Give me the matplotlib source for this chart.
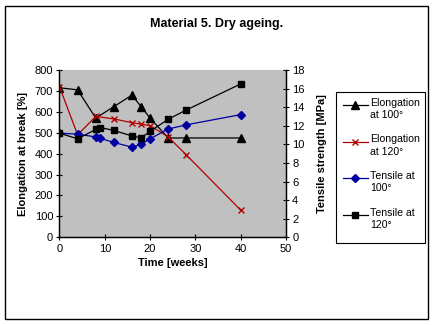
import matplotlib
matplotlib.use('Agg')
import matplotlib.pyplot as plt
from matplotlib.patches import Rectangle
from matplotlib.lines import Line2D

plt.rcParams['font.family'] = ['Liberation Sans', 'DejaVu Sans']

# ageing time in weeks
weeks_el = [0, 4, 8, 12, 16, 18, 20, 24, 28, 40]
weeks_ts = [0, 4, 8, 9, 12, 16, 18, 20, 24, 28, 40]

# elongation at break [%]
elong_100 = [715, 705, 570, 625, 680, 625, 570, 475, 475, 475]
elong_120 = [720, 490, 578, 566, 548, 541, 534, 480, 394, 130]

# tensile strength [MPa]
tens_100 = [11.2, 11.1, 10.8, 10.65, 10.2, 9.7, 10.0, 10.6, 11.65, 12.1, 13.2]
tens_120 = [11.2, 10.6, 11.6, 11.8, 11.5, 10.9, 10.7, 11.4, 12.7, 13.7, 16.5]

labels = ['Elongation\nat 100°', 'Elongation\nat 120°', 'Tensile at\n100°', 'Tensile at\n120°']

W, H = 435, 325
fig = plt.figure(figsize=(W / 100, H / 100), dpi=100)


def px(x, y):
    # pixel position (from top-left) -> figure fraction
    return x / W, 1 - y / H


fig.patches.append(Rectangle(px(5, 319), 423 / W, 313 / H, transform=fig.transFigure,
                             fill=False, edgecolor='black', linewidth=1))

ax = fig.add_axes([59.5 / W, (H - 237.3) / H, 226.5 / W, 167.3 / H])
ax.set_facecolor('#c0c0c0')
ax2 = ax.twinx()

styles = [
    dict(color='black', marker='^', markersize=5.5),
    dict(color='#b00000', marker='x', markersize=4.5, markeredgewidth=1),
    dict(color='#0000a0', marker='D', markersize=4),
    dict(color='black', marker='s', markersize=4.8),
]

ax.plot(weeks_el, elong_100, linewidth=0.9, **styles[0])
ax.plot(weeks_el, elong_120, linewidth=0.9, **styles[1])
ax2.plot(weeks_ts, tens_100, linewidth=0.9, **styles[2])
ax2.plot(weeks_ts, tens_120, linewidth=0.9, **styles[3])

ax.set_xlim(0, 50)
ax.set_ylim(0, 800)
ax2.set_ylim(0, 18)
ax.set_xticks(range(0, 51, 10))
ax.set_yticks(range(0, 801, 100))
ax2.set_yticks(range(0, 19, 2))

for a in (ax, ax2):
    a.tick_params(direction='inout', length=5, width=0.8, labelsize=8, pad=2)
    for s in a.spines.values():
        s.set_linewidth(0.9)
ax.spines['top'].set_visible(False)
ax2.spines['top'].set_visible(False)

ax.set_xlabel('Time [weeks]', fontsize=8, fontweight='bold', labelpad=3)
ax.set_ylabel('Elongation at break [%]', fontsize=8, fontweight='bold', labelpad=5)
ax2.set_ylabel('Tensile strength [MPa]', fontsize=8, fontweight='bold', labelpad=9)

fig.text(*px(217, 24), 'Material 5. Dry ageing.', ha='center', va='center',
         fontsize=9, fontweight='bold')

# legend box drawn by hand, handle sits on the first text line
fig.patches.append(Rectangle(px(336, 243), 89 / W, 151 / H, transform=fig.transFigure,
                             facecolor='white', edgecolor='black', linewidth=0.8))
for i, (st, lab) in enumerate(zip(styles, labels)):
    y = 105 + i * 36.5
    x0, yy = px(343, y)
    x1, _ = px(368, y)
    xm, _ = px(355.5, y)
    fig.lines.append(Line2D([x0, x1], [yy, yy], color=st['color'], linewidth=0.9,
                            transform=fig.transFigure))
    fig.lines.append(Line2D([xm], [yy], linestyle='none', transform=fig.transFigure, **st))
    fig.text(*px(370, y - 7), lab, ha='left', va='top', fontsize=7.6, linespacing=1.3)

fig.savefig('out.png', dpi=100)
